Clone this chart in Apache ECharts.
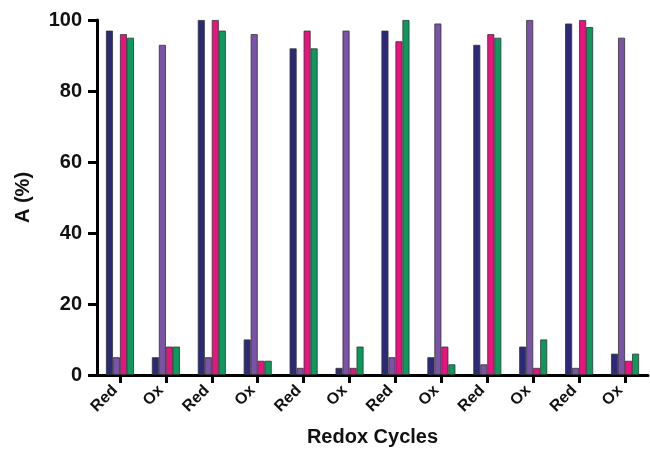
<!DOCTYPE html>
<html>
  <head>
    <meta charset="utf-8" />
    <title>Redox Cycles</title>
    <script src="https://cdn.jsdelivr.net/npm/echarts@6.0.0/dist/echarts.min.js"></script>
  </head>
  <body style="margin:0;">
    <div id="main" style="width:650px;height:449px;"></div>
    <script type="text/javascript">
// categories on the x axis
const cycles = ['Red', 'Ox', 'Red', 'Ox', 'Red', 'Ox', 'Red', 'Ox', 'Red', 'Ox', 'Red', 'Ox'];
// four bars per cycle, A (%)
const navyVals   = [97, 5, 100, 10, 92, 2, 97, 5, 93, 8, 99, 6];
const purpleVals = [5, 93, 5, 96, 2, 97, 5, 99, 3, 100, 2, 95];
const pinkVals   = [96, 8, 100, 4, 97, 2, 94, 8, 96, 2, 100, 4];
const greenVals  = [95, 8, 97, 4, 92, 8, 100, 3, 95, 10, 98, 6];
const yTicks = [0, 20, 40, 60, 80, 100];

const colors = ['#2c2a78', '#7a52a6', '#e8137f', '#0b9a5c'];
const font = 'Liberation Sans, Arial, sans-serif';

var myChart = echarts.init(document.getElementById('main'));

function bar(data, i) {
  return {
    type: 'bar',
    data: data,
    barWidth: 7,
    barGap: '0%',
    itemStyle: { color: colors[i], borderColor: '#333', borderWidth: 0.8 }
  };
}

var option = {
  animation: false,
  grid: { left: 97, right: 2, top: 20, bottom: 74, outerBoundsMode: 'none', containLabel: false },
  xAxis: {
    type: 'category',
    data: cycles,
    name: 'Redox Cycles',
    nameLocation: 'middle',
    nameGap: 52,
    nameTextStyle: { fontFamily: font, fontWeight: 'bold', fontSize: 20, color: '#111' },
    axisLine: { show: true, lineStyle: { color: 'black', width: 3 } },
    axisTick: { show: true, alignWithLabel: true, length: 8, lineStyle: { color: 'black', width: 3 } },
    axisLabel: {
      rotate: 45, margin: 8, padding: [0, 7, 0, 0],
      fontFamily: font, fontWeight: 'bold', fontSize: 16, color: '#111'
    }
  },
  yAxis: {
    type: 'value',
    position: 'left',
    z: 10,
    min: 0,
    max: 100,
    interval: 20,
    name: 'A (%)',
    nameLocation: 'middle',
    nameGap: 64,
    nameTextStyle: { fontFamily: font, fontWeight: 'bold', fontSize: 20, color: '#111' },
    splitLine: { show: false },
    axisLine: { show: true, onZero: false, lineStyle: { color: 'black', width: 3, type: 'solid' } },
    axisTick: { show: true, length: 9, lineStyle: { color: 'black', width: 3, type: 'solid' } },
    axisLabel: {
      margin: 15, fontFamily: font, fontWeight: 'bold', fontSize: 20, color: '#111',
      formatter: function (v) { return yTicks.indexOf(v) >= 0 ? v : ''; }
    }
  },
  series: [navyVals, purpleVals, pinkVals, greenVals].map(bar)
};

myChart.setOption(option);
    </script>
  </body>
</html>
